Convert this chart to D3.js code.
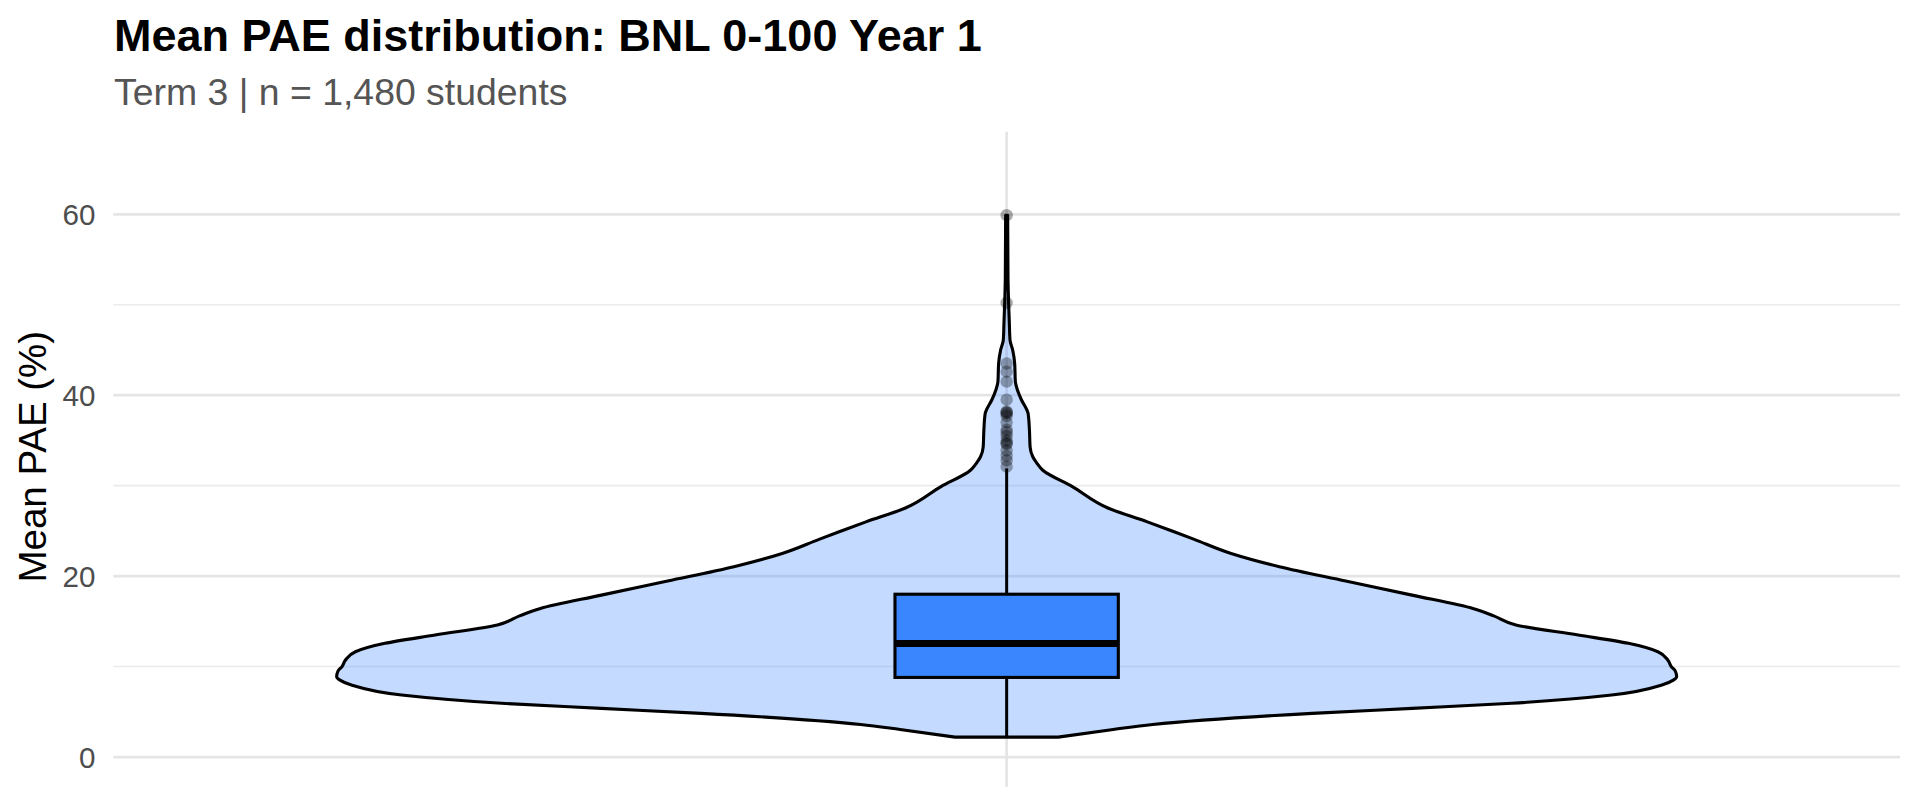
<!DOCTYPE html>
<html>
<head>
<meta charset="utf-8">
<script src="https://cdn.jsdelivr.net/npm/d3@7"></script>
<style>
  body { margin: 0; background: #fff; }
  text { font-family: "Liberation Sans", Arial, sans-serif; }
</style>
</head>
<body>
<div id="chart"></div>
<script>
// values
const title = "Mean PAE distribution: BNL 0-100 Year 1"
const subtitle = "Term 3 | n = 1,480 students"
const yLabel = "Mean PAE (%)"
const majorTicks = [0, 20, 40, 60]
const minorTicks = [10, 30, 50]

// violin outline: value -> relative density (max = 1)
const violinY = [2.2, 3.04, 3.6, 4.83, 5.38, 5.94, 6.85, 7.96, 8.5, 8.88, 9.5, 10.0, 10.7, 11.64, 12.57, 13.49, 14.6, 15.6, 16.4, 17.9, 19.46, 21.04, 22.5, 24.06, 24.9, 26.0, 27.5, 29.9, 31.7, 32.5, 33.2, 34.3, 36.15, 38.0, 38.4, 39.5, 40.6, 41.5, 43.5, 45.0, 46.1, 48.0, 50.0, 53.0, 59.9]
const violinDensity = [0.077, 0.159, 0.218, 0.456, 0.605, 0.754, 0.903, 0.978, 0.995, 1.0, 0.998, 0.992, 0.987, 0.972, 0.928, 0.853, 0.760, 0.727, 0.697, 0.605, 0.506, 0.407, 0.335, 0.280, 0.250, 0.210, 0.152, 0.098, 0.054, 0.045, 0.039, 0.035, 0.034, 0.032, 0.030, 0.022, 0.016, 0.013, 0.012, 0.009, 0.005, 0.004, 0.003, 0.002, 0.0015]

const quartiles = [8.8, 12.55, 18.0]
const whiskers = [2.2, 31.9]
const outliers = [59.9, 50.2, 43.5, 42.6, 41.5, 39.5, 38.2, 38.1, 38.0, 37.7, 37.0, 36.2, 35.9, 35.5, 35.0, 34.7, 34.6, 33.9, 33.3, 32.8, 32.1]

const w = 1920
const h = 806
const margLeft = 113.3
const margRight = 1900
const panelTop = 131.7
const panelBottom = 786.7
const boxColor = "#3A86FF"

const svg = d3.select('#chart')
    .append('svg')
    .attr('width', w)
    .attr('height', h)

const xScale = d3.scaleLinear()
    .domain([0.4, 1.6])
    .range([margLeft, margRight])

const yScale = d3.scaleLinear()
    .domain([-3.28, 69.13])
    .range([panelBottom, panelTop])

const widthScale = d3.scaleLinear()
    .domain([0, 1])
    .range([0, xScale(1.45) - xScale(1)])

const cx = xScale(1)

// grid
svg.append('g')
    .selectAll('line')
    .data(minorTicks)
    .enter()
    .append('line')
    .attr('x1', margLeft).attr('x2', margRight)
    .attr('y1', d => yScale(d)).attr('y2', d => yScale(d))
    .attr('stroke', '#ebebeb')
    .attr('stroke-width', 1.6)

svg.append('g')
    .selectAll('line')
    .data(majorTicks)
    .enter()
    .append('line')
    .attr('x1', margLeft).attr('x2', margRight)
    .attr('y1', d => yScale(d)).attr('y2', d => yScale(d))
    .attr('stroke', '#e5e5e5')
    .attr('stroke-width', 2.8)

svg.append('line')
    .attr('x1', cx).attr('x2', cx)
    .attr('y1', panelTop).attr('y2', panelBottom)
    .attr('stroke', '#e5e5e5')
    .attr('stroke-width', 2.8)

// y axis labels
const yAxis = d3.axisLeft(yScale)
    .tickValues(majorTicks)
    .tickSize(0)
    .tickPadding(0)

const yAxisG = svg.append('g')
    .attr('transform', 'translate(' + 95.5 + ',0)')
    .call(yAxis)
yAxisG.select('.domain').remove()
yAxisG.selectAll('text')
    .attr('font-family', '"Liberation Sans", Arial, sans-serif')
    .attr('font-size', 29.6)
    .attr('fill', '#4d4d4d')
    .attr('dy', '0.36em')

// violin
const violinData = violinY.map((v, i) => ({ v: v, d: violinDensity[i] }))
const violinArea = d3.area()
    .y(d => yScale(d.v))
    .x0(d => cx - widthScale(d.d))
    .x1(d => cx + widthScale(d.d))
    .curve(d3.curveMonotoneY)

svg.append('path')
    .datum(violinData)
    .attr('d', violinArea)
    .attr('fill', boxColor)
    .attr('fill-opacity', 0.3)
    .attr('stroke', '#000')
    .attr('stroke-width', 3.1)
    .attr('stroke-linejoin', 'round')

// boxplot
const halfBox = xScale(1.075) - xScale(1)
svg.append('line')
    .attr('x1', cx).attr('x2', cx)
    .attr('y1', yScale(whiskers[0])).attr('y2', yScale(quartiles[0]))
    .attr('stroke', '#000').attr('stroke-width', 3)
svg.append('line')
    .attr('x1', cx).attr('x2', cx)
    .attr('y1', yScale(quartiles[2])).attr('y2', yScale(whiskers[1]))
    .attr('stroke', '#000').attr('stroke-width', 3)

svg.append('rect')
    .attr('x', cx - halfBox)
    .attr('width', halfBox * 2)
    .attr('y', yScale(quartiles[2]))
    .attr('height', yScale(quartiles[0]) - yScale(quartiles[2]))
    .attr('fill', boxColor)
    .attr('stroke', '#000')
    .attr('stroke-width', 3.1)

svg.append('line')
    .attr('x1', cx - halfBox).attr('x2', cx + halfBox)
    .attr('y1', yScale(quartiles[1])).attr('y2', yScale(quartiles[1]))
    .attr('stroke', '#000')
    .attr('stroke-width', 7)

svg.append('g')
    .selectAll('circle')
    .data(outliers)
    .enter()
    .append('circle')
    .attr('cx', cx)
    .attr('cy', d => yScale(d))
    .attr('r', 6.2)
    .attr('fill', '#000')
    .attr('fill-opacity', 0.33)

// texts
svg.append('text')
    .attr('x', 114)
    .attr('y', 50.7)
    .attr('font-size', 45)
    .attr('font-weight', 'bold')
    .attr('fill', '#000')
    .text(title)

svg.append('text')
    .attr('x', 114)
    .attr('y', 105)
    .attr('font-size', 37.4)
    .attr('fill', '#555555')
    .text(subtitle)

svg.append('text')
    .attr('transform', 'translate(' + 45.5 + ',' + yScale(33.2) + ') rotate(-90)')
    .attr('text-anchor', 'middle')
    .attr('font-size', 38.5)
    .attr('fill', '#000')
    .text(yLabel)
</script>
</body>
</html>
